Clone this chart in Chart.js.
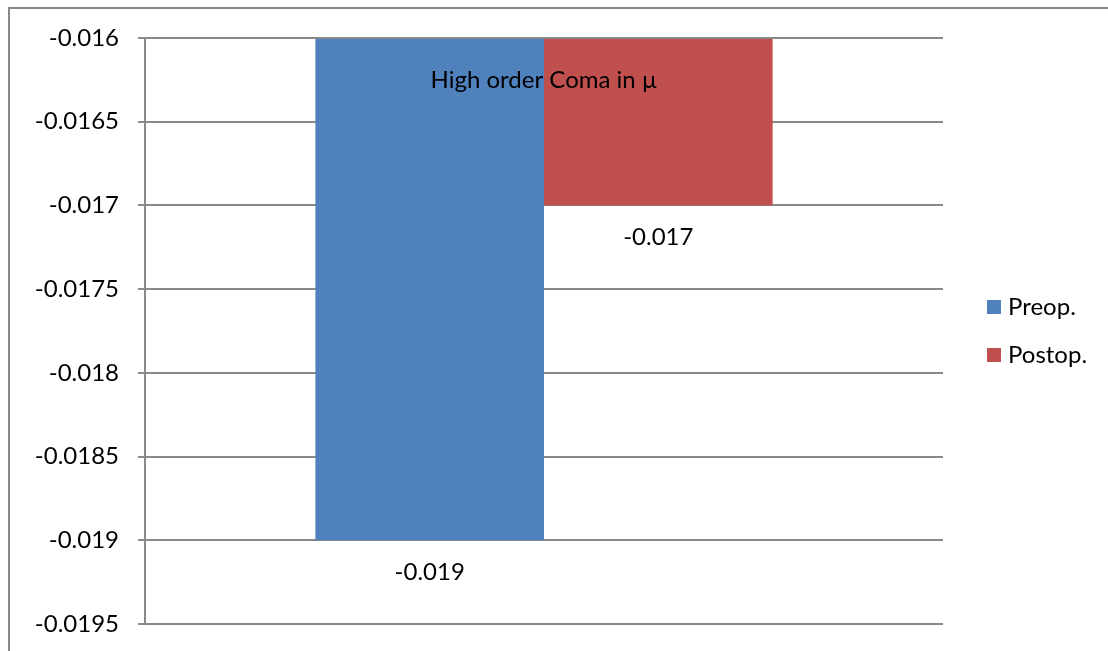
<!DOCTYPE html>
<html lang="en">
<head>
<meta charset="UTF-8">
<title>High order Coma</title>
<script src="https://cdn.jsdelivr.net/npm/chart.js"></script>
<style>
  body { margin: 0; background: #fff; }
  #wrap { position: relative; width: 1108px; height: 651px; overflow: hidden; }
  #frame { position: absolute; left: 8px; top: 7px; width: 1200px; height: 800px;
           border-left: 2px solid #898989; border-top: 2px solid #898989; }
  canvas { position: absolute; left: 0; top: 0; }
</style>
</head>
<body>
<div id="wrap">
  <div id="frame"></div>
  <canvas id="myChart" width="1108" height="651"></canvas>
</div>
<script>
// data
const categories = ['High order Coma in µ'];
const seriesNames = ['Preop.', 'Postop.'];
const seriesColors = ['#4F81BD', '#C0504D'];
const preopValues = [-0.019];
const postopValues = [-0.017];
const yTickValues = [-0.016, -0.0165, -0.017, -0.0175, -0.018, -0.0185, -0.019, -0.0195];
const yTickLabels = ['-0.016', '-0.0165', '-0.017', '-0.0175', '-0.018', '-0.0185', '-0.019', '-0.0195'];
const axisBase = -0.016;   // horizontal axis crosses here, bars hang down from it

const fontFamily = 'Lato, "Open Sans", sans-serif';
const fontSize = 24;
const gridColor = '#898989';

// value labels, category label and the legend
const labelsPlugin = {
    id: 'labels',
    afterDatasetsDraw(chart) {
        const ctx = chart.ctx;
        const area = chart.chartArea;
        ctx.save();
        ctx.fillStyle = '#000';
        ctx.font = fontSize + 'px ' + fontFamily;
        ctx.textAlign = 'center';
        ctx.textBaseline = 'middle';

        chart.data.datasets.forEach((ds, i) => {
            chart.getDatasetMeta(i).data.forEach((bar, j) => {
                ctx.fillText(String(ds.data[j]), bar.x, bar.y + 32);
            });
        });

        const xs = chart.scales.x, ys = chart.scales.y;
        categories.forEach((c, i) => {
            ctx.fillText(c, xs.getPixelForValue(i), ys.getPixelForValue(axisBase) + 42);
        });

        // legend
        const midY = (area.top + area.bottom) / 2;
        ctx.textAlign = 'left';
        seriesNames.forEach((name, i) => {
            const cy = midY - 24 + i * 48;
            ctx.fillStyle = seriesColors[i];
            ctx.fillRect(987, cy - 7, 14, 14);
            ctx.fillStyle = '#000';
            ctx.fillText(name, 1008, cy);
        });
        ctx.restore();
    }
};

const ctx = document.getElementById('myChart');
new Chart(ctx, {
    type: 'bar',
    data: {
        labels: categories,
        datasets: [{
            label: seriesNames[0],
            data: preopValues,
            backgroundColor: seriesColors[0],
            base: axisBase
        }, {
            label: seriesNames[1],
            data: postopValues,
            backgroundColor: seriesColors[1],
            base: axisBase
        }]
    },
    options: {
        responsive: false,
        animation: false,
        categoryPercentage: 0.573,
        barPercentage: 1,
        layout: { padding: { top: 38, right: 165, bottom: 27, left: 0 } },
        plugins: {
            legend: { display: false },
            tooltip: { enabled: false }
        },
        scales: {
            x: { display: false },
            y: {
                min: -0.0195,
                max: -0.016,
                afterBuildTicks: s => { s.ticks = yTickValues.map(v => ({ value: v })); },
                afterFit: s => {
                    s.width = 145;
                    s.paddingTop = 0;
                    s.paddingBottom = 0;
                },
                ticks: {
                    callback: (v, i) => yTickLabels[i],
                    color: '#000',
                    font: { family: fontFamily, size: fontSize },
                    padding: 19
                },
                grid: { color: gridColor, lineWidth: 2, tickLength: 7 },
                border: { color: gridColor, width: 2 }
            }
        }
    },
    plugins: [labelsPlugin]
});
</script>
</body>
</html>
